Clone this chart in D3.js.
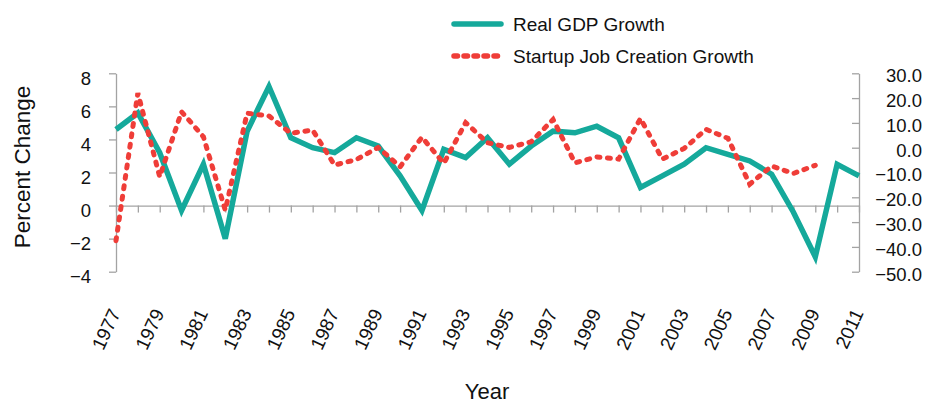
<!DOCTYPE html>
<html>
<head>
<meta charset="utf-8">
<script src="https://cdn.jsdelivr.net/npm/d3@7"></script>
<style>
  html, body { margin: 0; padding: 0; background: #fff; }
  svg { display: block; font-family: "Liberation Sans", Arial, Helvetica, sans-serif; }
</style>
</head>
<body>
<svg id="chart" width="930" height="403"></svg>
<script>
const years = d3.range(1977, 2012);
const gdpGrowth = [4.6, 5.6, 3.2, -0.3, 2.5, -2.0, 4.5, 7.2, 4.1, 3.5, 3.2, 4.1, 3.6, 1.8, -0.3, 3.4, 2.9, 4.1, 2.5, 3.6, 4.5, 4.4, 4.8, 4.1, 1.1, 1.8, 2.5, 3.5, 3.1, 2.7, 1.9, -0.4, -3.1, 2.5, 1.8];
const startupGrowth = [-37.5, 22.0, -11.7, 14.5, 4.4, -25.2, 13.9, 12.8, 5.8, 7.1, -7.0, -4.8, 0.1, -7.7, 4.2, -6.3, 10.1, 2.0, 0.1, 2.4, 11.4, -6.1, -3.7, -4.6, 11.8, -4.6, -0.3, 7.4, 3.8, -14.7, -7.4, -10.4, -7.1];
const leftTicks = [-4, -2, 0, 2, 4, 6, 8];
const rightTicks = [-50, -40, -30, -20, -10, 0, 10, 20, 30];
const yearLabels = d3.range(1977, 2012, 2);
const seriesNames = ["Real GDP Growth", "Startup Job Creation Growth"];

const teal = "#15a99b";
const red = "#ef3d38";
const axisGray = "#a3a3a3";

const svg = d3.select("#chart");
const x = d3.scaleLinear().domain([1977, 2011]).range([116, 859]);
const yL = d3.scaleLinear().domain([-4, 8]).range([271.7, 73.3]);
const yR = d3.scaleLinear().domain([-50, 30]).range([271.7, 73.3]);

// left axis
const gL = svg.append("g").attr("transform", `translate(${x(1977)},0)`)
  .call(d3.axisLeft(yL).tickValues(leftTicks).tickSize(7).tickPadding(18).tickSizeOuter(0).tickFormat(d3.format("d")));
gL.selectAll("path, line").attr("stroke", axisGray).attr("stroke-width", 1.3);
gL.selectAll("text").attr("font-size", 18.5).attr("fill", "#111").attr("font-family", "Liberation Sans, Arial, sans-serif").attr("dy", "0.6em");

// right axis (ticks inward, labels right-aligned)
const gR = svg.append("g").attr("transform", `translate(${x(2011)},0)`)
  .call(d3.axisLeft(yR).tickValues(rightTicks).tickSize(7).tickSizeOuter(0).tickFormat(d3.format(".1f")));
gR.selectAll("path, line").attr("stroke", axisGray).attr("stroke-width", 1.3);
gR.selectAll("text").attr("font-size", 18.5).attr("fill", "#111").attr("font-family", "Liberation Sans, Arial, sans-serif")
  .attr("x", 63).attr("text-anchor", "end").attr("dy", "0.45em");

// horizontal zero axis with year ticks
const gX = svg.append("g").attr("transform", `translate(0,${yL(0)})`)
  .call(d3.axisBottom(x).tickValues(years).tickSize(7).tickSizeOuter(0).tickFormat(""));
gX.selectAll("path, line").attr("stroke", axisGray).attr("stroke-width", 1.3);

// year labels
svg.append("g").selectAll("text").data(yearLabels).join("text")
  .attr("transform", d => `translate(${x(d) + 5},313) rotate(-65)`)
  .attr("text-anchor", "end")
  .attr("font-size", 19).attr("fill", "#111")
  .text(d => d);

// lines
const gdpLine = d3.line().x((d, i) => x(years[i])).y(d => yL(d));
const stLine = d3.line().x((d, i) => x(years[i])).y(d => yR(d));

svg.append("path").datum(gdpGrowth)
  .attr("d", gdpLine).attr("fill", "none").attr("stroke", teal)
  .attr("stroke-width", 5.5).attr("stroke-linejoin", "miter");

svg.append("path").datum(startupGrowth)
  .attr("d", stLine).attr("fill", "none").attr("stroke", red)
  .attr("stroke-width", 5).attr("stroke-linecap", "round").attr("stroke-dasharray", "3,7.5");

// axis titles
svg.append("text").attr("x", 487).attr("y", 399).attr("text-anchor", "middle")
  .attr("font-size", 22).attr("fill", "#111").text("Year");
svg.append("text").attr("transform", "translate(30,167) rotate(-90)").attr("text-anchor", "middle")
  .attr("font-size", 22.5).attr("fill", "#111").text("Percent Change");

// legend
const leg = svg.append("g");
leg.append("line").attr("x1", 454).attr("x2", 501).attr("y1", 24).attr("y2", 24)
  .attr("stroke", teal).attr("stroke-width", 5.5).attr("stroke-linecap", "round");
leg.append("line").attr("x1", 454).attr("x2", 501).attr("y1", 56).attr("y2", 56)
  .attr("stroke", red).attr("stroke-width", 5.5).attr("stroke-linecap", "round").attr("stroke-dasharray", "3.5,6.5");
leg.selectAll("text").data(seriesNames).join("text")
  .attr("x", 513).attr("y", (d, i) => 24 + i * 32).attr("dy", "0.35em")
  .attr("font-size", 19).attr("fill", "#111").text(d => d);
</script>
</body>
</html>
